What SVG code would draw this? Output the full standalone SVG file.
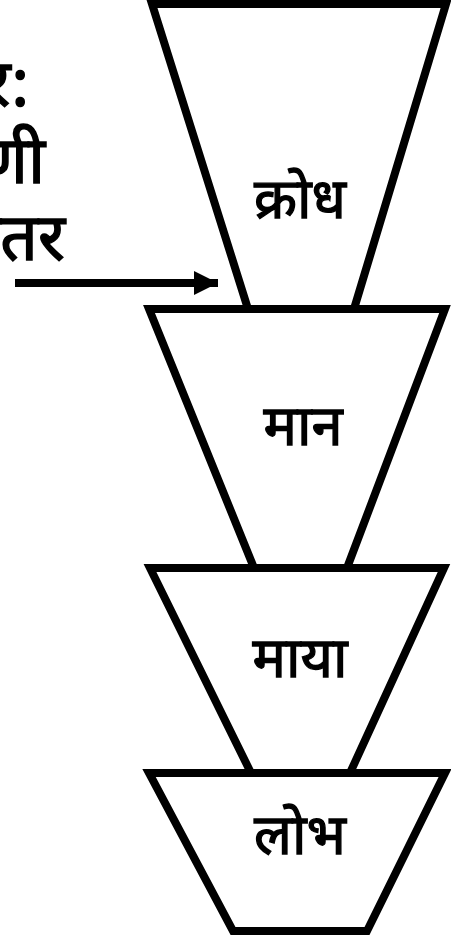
<svg xmlns="http://www.w3.org/2000/svg" width="451" height="938" viewBox="0 0 451 938">
<style>
.shape{fill:#fff;stroke:#000;stroke-width:8;stroke-linejoin:miter}
.lbl{font-family:"Noto Sans Devanagari","Lohit Devanagari","Mangal","Noto Sans",sans-serif;font-size:56px;fill:#000;stroke:#000;stroke-width:1.3;text-anchor:middle}
.side{font-family:"Noto Sans Devanagari","Lohit Devanagari","Mangal","Noto Sans",sans-serif;font-size:66px;fill:#000;stroke:#000;stroke-width:1.5;text-anchor:end}
</style>
<defs>
<marker id="ah" markerUnits="userSpaceOnUse" markerWidth="26" markerHeight="24" refX="24" refY="12" orient="auto">
<path d="M0,0 L24,12 L0,24 Z" fill="#000"/>
</marker>
</defs>
<rect width="451" height="938" fill="#fff"/>
<g id="node-lobh">
<polygon class="shape" points="149,773 445,773 367,931 233,931"/>
<text class="lbl" x="300" y="854">लोभ</text>
</g>
<g id="node-maya">
<polygon class="shape" points="150,568 444,568 350,773 251,773"/>
<text class="lbl" x="300" y="677">माया</text>
</g>
<g id="node-maan">
<polygon class="shape" points="149,309 445,309 347,568 254,568"/>
<text class="lbl" x="303" y="445">मान</text>
</g>
<g id="node-krodh">
<polygon class="shape" points="152,4 446,4 354,309 248,309"/>
<text class="lbl" x="300" y="218">क्रोध</text>
</g>
<g id="side-label">
<text class="side" x="30" y="106">प्रकार:</text>
<text class="side" x="45" y="183">श्रेणी</text>
<text class="side" x="65" y="260">अधिकतर</text>
</g>
<g id="connectors">
<line x1="15" y1="283" x2="218" y2="283" stroke="#000" stroke-width="8" marker-end="url(#ah)"/>
</g>
</svg>
